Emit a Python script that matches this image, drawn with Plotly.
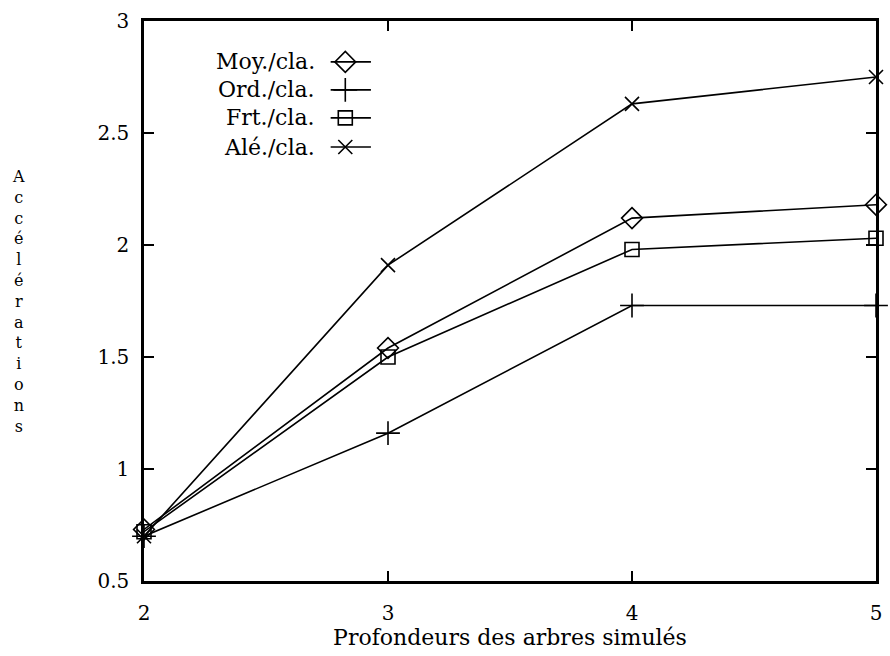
import plotly.graph_objects as go

depths = [2, 3, 4, 5]
moy = [0.73, 1.54, 2.12, 2.18]
ord_ = [0.70, 1.16, 1.73, 1.73]
frt = [0.72, 1.50, 1.98, 2.03]
ale = [0.70, 1.91, 2.63, 2.75]

names = ["Moy./cla.", "Ord./cla.", "Frt./cla.", "Alé./cla."]
symbols = ["diamond-open", "cross-thin", "square-open", "x-thin"]
sizes = [16, 17, 14, 14]
series = [moy, ord_, frt, ale]

y_ticks = [0.5, 1, 1.5, 2, 2.5, 3]
y_labels = ["0.5", "1", "1.5", "2", "2.5", "3"]

FONT = "DejaVu Serif"
fig = go.Figure()

for vals, sym, sz in zip(series, symbols, sizes):
    fig.add_trace(go.Scatter(
        x=depths, y=vals, mode="lines+markers",
        line=dict(color="black", width=1.6),
        marker=dict(symbol=sym, size=sz, color="black",
                    line=dict(color="black", width=1.6)),
        cliponaxis=False, showlegend=False))

# Custom legend (text left of key, like gnuplot)
leg_y = [0.927, 0.877, 0.827, 0.775]
for name, sym, sz, ly in zip(names, symbols, sizes, leg_y):
    fig.add_annotation(xref="paper", yref="paper", x=0.236, y=ly,
                       text=name, showarrow=False, xanchor="right",
                       yanchor="middle", font=dict(family=FONT, size=22, color="black"))
    fig.add_trace(go.Scatter(
        x=[0.255, 0.31], y=[ly, ly], xaxis="x2", yaxis="y2",
        mode="lines", line=dict(color="black", width=1.6),
        showlegend=False, hoverinfo="skip"))
    fig.add_trace(go.Scatter(
        x=[0.275], y=[ly], xaxis="x2", yaxis="y2",
        mode="markers",
        marker=dict(symbol=sym, size=sz, color="black",
                    line=dict(color="black", width=1.6)),
        showlegend=False, hoverinfo="skip"))

axis_common = dict(showgrid=False, zeroline=False, showline=True,
                   linecolor="black", linewidth=2.5, mirror="ticks",
                   ticks="inside", ticklen=10, tickwidth=2, tickcolor="black",
                   tickfont=dict(family=FONT, size=20, color="black"))

fig.update_layout(
    width=890, height=656,
    margin=dict(l=144, r=8, t=21, b=75),
    paper_bgcolor="white", plot_bgcolor="white",
    xaxis=dict(range=[2, 5], tickvals=depths, ticktext=[str(d) for d in depths],
               ticklabelstandoff=12,
               title=dict(text="Profondeurs des arbres simulés",
                          font=dict(family=FONT, size=22, color="black"), standoff=0),
               **axis_common),
    yaxis=dict(range=[0.5, 3], tickvals=y_ticks, ticktext=y_labels,
               ticklabelstandoff=8, **axis_common),
    xaxis2=dict(range=[0, 1], overlaying="x", visible=False, fixedrange=True),
    yaxis2=dict(range=[0, 1], overlaying="y", visible=False, fixedrange=True),
    showlegend=False,
)

title_letters = "Accélérations"
fig.add_annotation(xref="paper", yref="paper", x=-0.171, y=0.5,
                   xanchor="center", yanchor="middle", showarrow=False,
                   text="<br>".join(title_letters),
                   font=dict(family=FONT, size=16, color="black"))

fig.write_html("out.html")
